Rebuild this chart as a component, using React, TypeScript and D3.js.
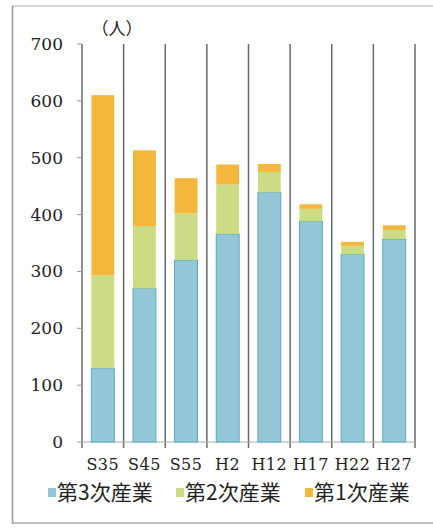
import * as React from "react";
import * as d3 from "d3";

const years = ["S35", "S45", "S55", "H2", "H12", "H17", "H22", "H27"];
const tertiary = [130, 270, 320, 366, 439, 388, 330, 357];
const secondary = [163, 110, 82, 87, 36, 22, 15, 16];
const primary = [317, 133, 62, 35, 14, 8, 7, 8];
const yTicks = [0, 100, 200, 300, 400, 500, 600, 700];
const seriesNames = ["第3次産業", "第2次産業", "第1次産業"];
const seriesColors = ["#93c7d8", "#cbdc85", "#f2b73c"];

const width = 433;
const height = 528;
const serif = "DejaVu Serif, Liberation Serif, serif";

function drawChart(svgEl: SVGSVGElement) {
  const svg = d3.select(svgEl);
  svg.selectAll("*").remove();

  const rows = years.map((y, i) => ({
    year: y,
    t3: tertiary[i],
    t2: secondary[i],
    t1: primary[i],
  }));
  const keys = ["t3", "t2", "t1"];
  const stacked = d3.stack<any>().keys(keys)(rows);

  const x = d3.scaleBand().domain(years).range([82, 415]).paddingInner(0.45).paddingOuter(0.225);
  const y = d3.scaleLinear().domain([0, 700]).range([442, 44]);

  // outer frame
  svg.append("line").attr("x1", 12).attr("x2", width).attr("y1", 6).attr("y2", 6).attr("stroke", "#c8c8c8").attr("stroke-width", 1.5);
  svg.append("line").attr("x1", 12.5).attr("x2", 12.5).attr("y1", 6).attr("y2", 524).attr("stroke", "#999").attr("stroke-width", 1.5);
  svg.append("line").attr("x1", 12).attr("x2", width).attr("y1", 523).attr("y2", 523).attr("stroke", "#aaa").attr("stroke-width", 1.5);

  // category boundary gridlines
  const step = x.step();
  const bounds = d3.range(years.length + 1).map((i) => 82 + i * step);
  svg
    .append("g")
    .selectAll("line")
    .data(bounds)
    .join("line")
    .attr("x1", (d) => d)
    .attr("x2", (d) => d)
    .attr("y1", y(700))
    .attr("y2", y(0) + 6)
    .attr("stroke", "#6a6a6a")
    .attr("stroke-width", 1.5);

  // x axis line
  svg.append("line").attr("x1", 82).attr("x2", 415).attr("y1", y(0)).attr("y2", y(0)).attr("stroke", "#aaa").attr("stroke-width", 1.2);

  // y ticks
  const yAxis = svg.append("g");
  yAxis
    .selectAll("line")
    .data(yTicks)
    .join("line")
    .attr("x1", 77)
    .attr("x2", 82)
    .attr("y1", (d) => y(d))
    .attr("y2", (d) => y(d))
    .attr("stroke", "#999");
  yAxis
    .selectAll("text")
    .data(yTicks)
    .join("text")
    .attr("x", 63)
    .attr("y", (d) => y(d) + 6)
    .attr("text-anchor", "end")
    .attr("font-family", serif)
    .attr("font-size", 17)
    .attr("fill", "#222")
    .text((d) => d);

  svg
    .append("text")
    .attr("x", 117)
    .attr("y", 35)
    .attr("text-anchor", "middle")
    .attr("font-family", "Noto Sans CJK JP, sans-serif")
    .attr("font-size", 17)
    .attr("fill", "#222")
    .text("（人）");

  // bars
  svg
    .append("g")
    .selectAll("g")
    .data(stacked)
    .join("g")
    .attr("fill", (_d, i) => seriesColors[i])
    .attr("stroke", (_d, i) => (i === 0 ? "#5ba8c3" : "none"))
    .selectAll("rect")
    .data((d) => d)
    .join("rect")
    .attr("x", (d) => x(d.data.year)!)
    .attr("width", x.bandwidth())
    .attr("y", (d) => y(d[1]))
    .attr("height", (d) => y(d[0]) - y(d[1]));

  // x labels
  svg
    .append("g")
    .selectAll("text")
    .data(years)
    .join("text")
    .attr("x", (d) => x(d)! + x.bandwidth() / 2)
    .attr("y", 470)
    .attr("text-anchor", "middle")
    .attr("font-family", serif)
    .attr("font-size", 16)
    .attr("letter-spacing", 0.5)
    .attr("fill", "#222")
    .text((d) => d);

  // legend
  const legendX = [48, 176, 305];
  const legend = svg
    .append("g")
    .selectAll("g")
    .data(seriesNames)
    .join("g")
    .attr("transform", (_d, i) => `translate(${legendX[i]}, 492)`);
  legend
    .append("rect")
    .attr("x", 0)
    .attr("y", -4)
    .attr("width", 8)
    .attr("height", 9)
    .attr("fill", (_d, i) => seriesColors[i]);
  legend
    .append("text")
    .attr("x", 9)
    .attr("y", 8)
    .attr("font-family", "Noto Sans CJK JP, sans-serif")
    .attr("font-size", 21)
    .attr("fill", "#222")
    .text((d) => d);
}

export default function App() {
  const ref = React.useRef<SVGSVGElement>(null);
  React.useEffect(() => {
    if (ref.current) drawChart(ref.current);
  }, []);
  return (
    <svg
      ref={ref}
      width={width}
      height={height}
      style={{ position: "absolute", left: 0, top: 0, background: "#fff" }}
    />
  );
}
